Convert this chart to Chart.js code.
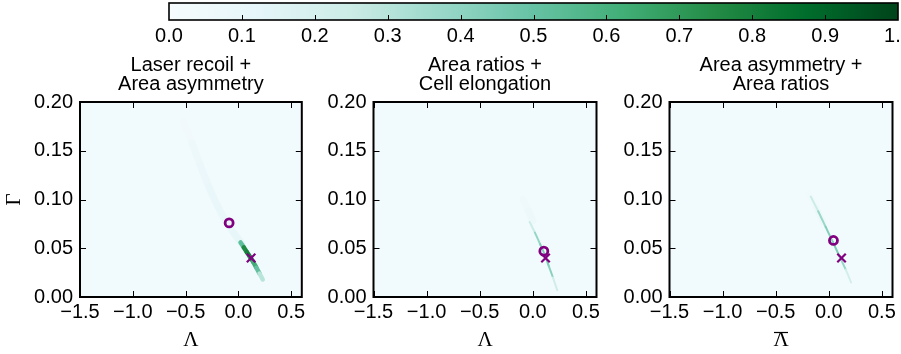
<!DOCTYPE html>
<html><head><meta charset="utf-8">
<script src="https://cdn.jsdelivr.net/npm/chart.js@4.4.1/dist/chart.umd.min.js"></script>
<style>
html,body{margin:0;padding:0;background:#fff;width:901px;height:354px;overflow:hidden;}
canvas{position:absolute;}
</style></head><body>
<canvas id="cb" width="901" height="50" style="left:0px;top:0px"></canvas>
<canvas id="p1" width="310" height="304" style="left:0px;top:50px"></canvas>
<canvas id="p2" width="295" height="304" style="left:310px;top:50px"></canvas>
<canvas id="p3" width="296" height="304" style="left:605px;top:50px"></canvas>
<script>
// ---------- data ----------
const colorbarTicks = [0.0,0.1,0.2,0.3,0.4,0.5,0.6,0.7,0.8,0.9,1.0];
const lambdaTicks = [-1.5,-1.0,-0.5,0.0,0.5];
const gammaTicks = [0.00,0.05,0.10,0.15,0.20];
const lambdaRange = [-1.5,0.6];
const gammaRange = [0.0,0.2];
const panelTitles = [['Laser recoil +','Area asymmetry'],['Area ratios +','Cell elongation'],['Area asymmetry +','Area ratios']];
const panelXLabels = ['\u039B','\u039B','\u039B'];
const panelXOverline = [false,false,true];
const yLabel = '\u0393';
const backgroundDensity = 0.04;

// panel 1: faint band and dark core of the posterior
const p1BandLambda  = [-0.52,-0.44,-0.36,-0.28,-0.20,-0.12,-0.04,0.03];
const p1BandGamma   = [0.180,0.158,0.135,0.113,0.094,0.078,0.065,0.055];
const p1BandDensity = [0.03,0.06,0.08,0.09,0.09,0.09,0.10,0.12];
const p1CoreLambda  = [0.02,0.05,0.08,0.11,0.14,0.17,0.20,0.23];
const p1CoreGamma   = [0.056,0.051,0.046,0.041,0.036,0.030,0.024,0.018];
const p1CoreDensity = [0.35,0.70,0.82,0.78,0.68,0.58,0.45,0.15];
// panel 2
const p2BandLambda  = [-0.14,-0.09,-0.04,0.00];
const p2BandGamma   = [0.112,0.100,0.088,0.078];
const p2BandDensity = [0.03,0.05,0.06,0.08];
const p2CoreLambda  = [-0.03,0.02,0.07,0.11,0.15,0.19,0.23];
const p2CoreGamma   = [0.077,0.066,0.054,0.044,0.032,0.020,0.007];
const p2CoreDensity = [0.15,0.35,0.42,0.45,0.45,0.38,0.08];
// panel 3
const p3BandLambda  = [-0.19,-0.12,-0.05];
const p3BandGamma   = [0.106,0.092,0.076];
const p3BandDensity = [0.04,0.06,0.07];
const p3CoreLambda  = [-0.17,-0.10,-0.03,0.04,0.10,0.16,0.21];
const p3CoreGamma   = [0.103,0.088,0.072,0.056,0.042,0.028,0.015];
const p3CoreDensity = [0.15,0.35,0.40,0.45,0.42,0.35,0.08];
// estimates (circle) and true value (cross)
const estLambda  = [-0.088,0.104,0.044];
const estGamma   = [0.076,0.047,0.058];
const trueLambda = [0.12,0.12,0.12];
const trueGamma  = [0.040,0.040,0.040];

// ---------- colormap (BuGn) ----------
const BUGN = ['#f7fcfd','#e5f5f9','#ccece6','#99d8c9','#66c2a4','#41ae76','#238b45','#006d2c','#00441b'];
function hex(h){return [parseInt(h.substr(1,2),16),parseInt(h.substr(3,2),16),parseInt(h.substr(5,2),16)];}
function bugn(v){
  v=Math.max(0,Math.min(1,v));
  const f=v*(BUGN.length-1); const i=Math.min(BUGN.length-2,Math.floor(f)); const t=f-i;
  const a=hex(BUGN[i]), b=hex(BUGN[i+1]);
  return 'rgb('+a.map((c,k)=>Math.round(c+(b[k]-c)*t)).join(',')+')';
}
const SANS='"Liberation Sans", Arial, Helvetica, sans-serif';
const SERIF='"Liberation Serif", "DejaVu Serif", serif';
const FS=20;
const fmtMinus = s => s.replace('-','\u2212');

// ---------- colorbar ----------
const cbPlugin = {
  id:'cbar',
  beforeDatasetsDraw(chart){
    const {ctx, chartArea:a} = chart; const sx = chart.scales.x;
    const g = ctx.createLinearGradient(sx.getPixelForValue(0),0,sx.getPixelForValue(1),0);
    for(let k=0;k<=40;k++){ g.addColorStop(k/40,bugn(k/40)); }
    ctx.save(); ctx.fillStyle=g; ctx.fillRect(a.left,a.top,a.right-a.left,a.bottom-a.top);
    ctx.strokeStyle='#000'; ctx.lineWidth=1;
    colorbarTicks.forEach(v=>{ if(v<=0||v>=1) return; const x=Math.round(sx.getPixelForValue(v))+0.5;
      ctx.beginPath(); ctx.moveTo(x,a.bottom); ctx.lineTo(x,a.bottom-5); ctx.stroke(); });
    ctx.lineWidth=1.6; ctx.strokeRect(a.left,a.top,a.right-a.left,a.bottom-a.top);
    ctx.restore();
  }
};
new Chart(document.getElementById('cb'), {
  type:'scatter',
  data:{datasets:[]},
  options:{
    responsive:false, animation:false, devicePixelRatio:1,
    layout:{padding:{left:169,right:3,top:3,bottom:0}},
    plugins:{legend:{display:false},tooltip:{enabled:false}},
    scales:{
      x:{type:'linear',min:0,max:1,position:'bottom',
        grid:{display:false,drawTicks:false}, border:{display:false},
        afterBuildTicks(s){ s.ticks = colorbarTicks.map(v=>({value:v})); },
        afterFit(s){ s.height=30; s.paddingLeft=0; s.paddingRight=0; },
        ticks:{autoSkip:false,maxRotation:0,minRotation:0,padding:4,color:'#000',
          font:{family:SANS,size:FS}, callback:v=>Number(v).toFixed(1)}},
      y:{display:false,min:0,max:1}
    }
  },
  plugins:[cbPlugin]
});

// ---------- panels ----------
function panelPlugin(idx){
  return {
    id:'panel'+idx,
    beforeDatasetsDraw(chart){
      const {ctx, chartArea:a} = chart;
      ctx.save(); ctx.fillStyle=bugn(backgroundDensity);
      ctx.fillRect(a.left,a.top,a.right-a.left,a.bottom-a.top); ctx.restore();
    },
    afterDraw(chart){
      const {ctx, chartArea:a} = chart; const sx=chart.scales.x, sy=chart.scales.y;
      ctx.save();
      ctx.strokeStyle='#000'; ctx.lineWidth=1;
      lambdaTicks.forEach(v=>{ const x=Math.round(sx.getPixelForValue(v))+0.5;
        ctx.beginPath(); ctx.moveTo(x,a.bottom); ctx.lineTo(x,a.bottom-6);
        ctx.moveTo(x,a.top); ctx.lineTo(x,a.top+6); ctx.stroke(); });
      gammaTicks.forEach(v=>{ const y=Math.round(sy.getPixelForValue(v))+0.5;
        ctx.beginPath(); ctx.moveTo(a.left,y); ctx.lineTo(a.left+6,y);
        ctx.moveTo(a.right,y); ctx.lineTo(a.right-6,y); ctx.stroke(); });
      ctx.lineWidth=2; ctx.strokeRect(a.left,a.top,a.right-a.left,a.bottom-a.top);
      const cx=(a.left+a.right)/2;
      if(panelXOverline[idx]){
        ctx.lineWidth=1.2; ctx.beginPath(); ctx.moveTo(cx-7,282.5); ctx.lineTo(cx+7,282.5); ctx.stroke();
      }
      ctx.fillStyle='#000'; ctx.font=FS+'px '+SANS; ctx.textAlign='center'; ctx.textBaseline='alphabetic';
      ctx.fillText(panelTitles[idx][0],cx,21);
      ctx.fillText(panelTitles[idx][1],cx,40);
      ctx.restore();
    }
  };
}
function lineSet(lam,gam,dens,width,order){
  return {
    type:'scatter', showLine:true, order:order,
    data: lam.map((v,i)=>({x:v,y:gam[i]})),
    borderWidth:width, borderCapStyle:'round', borderJoinStyle:'round', tension:0.3,
    pointRadius:0, borderColor:bugn(dens[0]),
    segment:{borderColor:c=>bugn((dens[c.p0DataIndex]+dens[c.p1DataIndex])/2)}
  };
}
function makePanel(id, idx, yWidth, padRight, band, core, bandW, coreW){
  const datasets = [
    {type:'scatter', order:0, data:[{x:trueLambda[idx],y:trueGamma[idx]}], pointStyle:'crossRot',
      pointRadius:6, borderWidth:2.2, borderColor:'#800080', backgroundColor:'#800080'},
    {type:'scatter', order:0, data:[{x:estLambda[idx],y:estGamma[idx]}], pointStyle:'circle',
      pointRadius:4, borderWidth:2.8, borderColor:'#800080', backgroundColor:'rgba(0,0,0,0)'},
    lineSet(core[0],core[1],core[2],coreW,1),
    lineSet(band[0],band[1],band[2],bandW,2)
  ];
  new Chart(document.getElementById(id), {
    type:'scatter',
    data:{datasets},
    options:{
      responsive:false, animation:false, devicePixelRatio:1,
      layout:{padding:{left:0,right:padRight,top:52,bottom:0}},
      plugins:{legend:{display:false},tooltip:{enabled:false}},
      scales:{
        x:{type:'linear',min:lambdaRange[0],max:lambdaRange[1],position:'bottom',
          grid:{display:false,drawTicks:false}, border:{display:false},
          afterBuildTicks(s){ s.ticks = lambdaTicks.map(v=>({value:v})); },
          afterFit(s){ s.height=57; s.paddingLeft=0; s.paddingRight=0; },
          ticks:{autoSkip:false,maxRotation:0,minRotation:0,padding:3,color:'#000',
            font:{family:SANS,size:FS}, callback:v=>fmtMinus(Number(v).toFixed(1))},
          title:{display:true,text:panelXLabels[idx],color:'#000',font:{family:SERIF,size:21},padding:{top:0,bottom:1}}},
        y:{type:'linear',min:gammaRange[0],max:gammaRange[1],position:'left',
          grid:{display:false,drawTicks:false}, border:{display:false},
          afterBuildTicks(s){ s.ticks = gammaTicks.map(v=>({value:v})); },
          afterFit(s){ s.width=yWidth; s.paddingTop=0; s.paddingBottom=0; },
          ticks:{autoSkip:false,padding:7,color:'#000',
            font:{family:SANS,size:FS}, callback:v=>Number(v).toFixed(2)},
          title:{display:idx===0,text:yLabel,color:'#000',font:{family:SERIF,size:21},padding:{top:2,bottom:0}}}
      }
    },
    plugins:[panelPlugin(idx)]
  });
}
makePanel('p1',0,80,7,[p1BandLambda,p1BandGamma,p1BandDensity],[p1CoreLambda,p1CoreGamma,p1CoreDensity],7,4.5);
makePanel('p2',1,63.5,8.5,[p2BandLambda,p2BandGamma,p2BandDensity],[p2CoreLambda,p2CoreGamma,p2CoreDensity],7,2);
makePanel('p3',2,64.5,8.5,[p3BandLambda,p3BandGamma,p3BandDensity],[p3CoreLambda,p3CoreGamma,p3CoreDensity],6,2);
</script>
</body></html>
